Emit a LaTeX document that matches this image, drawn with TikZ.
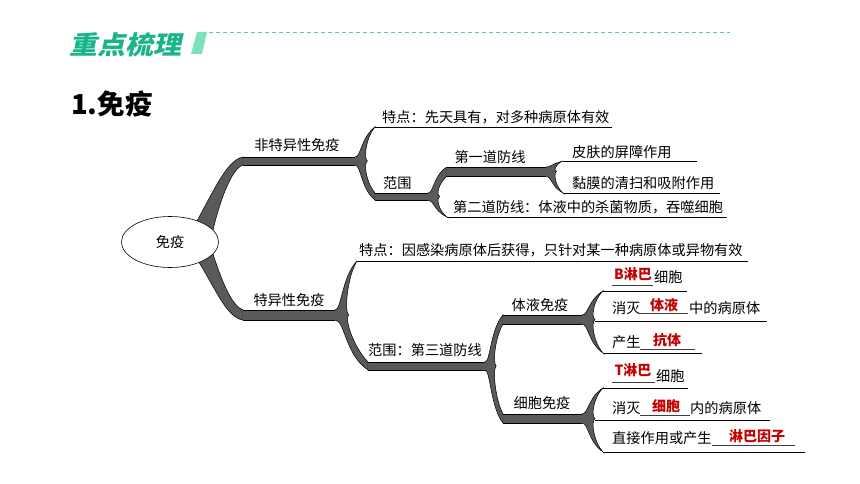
\documentclass[tikz,border=0pt]{standalone}
\usepackage{fontspec}
\usetikzlibrary{shapes.geometric}
\setmainfont{Noto Sans CJK SC}
\newfontfamily\hdrfont{Noto Sans CJK SC}[FakeSlant=0.22,FakeStretch=1.1,BoldFeatures={FakeSlant=0.22,FakeStretch=1.1}]
\definecolor{hdrgreen}{RGB}{26,180,137}
\definecolor{hdrlight}{RGB}{125,226,183}
\definecolor{dashgreen}{RGB}{90,200,170}
\definecolor{branchgray}{RGB}{90,90,90}
\definecolor{ansred}{RGB}{196,0,0}
\tikzset{
  txt/.style={inner sep=0pt, font=\fontsize{14.2}{16}\selectfont},
  ans/.style={inner sep=0pt, font=\fontsize{14}{16}\selectfont\bfseries, text=ansred},
  thinln/.style={line width=0.8pt, black},
  blankln/.style={line width=0.7pt, black!75},
  branch/.style={fill=branchgray, draw=black, line width=0.5pt},
}
% fork: xe yc h xtu yu hu xtl yl hl
\newcommand\forkY[9]{%
 \filldraw[branch] (#1,{#2-#3}) .. controls ({#1+0.3*(#4-#1)},{#2-#3}) and ({#1+0.3*(#4-#1)},{#5-#6+0.3*(#2-#5)}) .. (#4,{#5-#6}) -- (#4,{#5+#6})
 .. controls ({#1+0.55*(#4-#1)},{#5+#6+0.3*(#2-#5)}) and ({#1+0.42*(#4-#1)},{#2-0.06*(#2-#5)}) .. ({#1+0.62*(#4-#1)},#2)
 .. controls ({#1+0.42*(#4-#1)},{#2+0.06*(#8-#2)}) and ({#1+0.55*(#7-#1)},{#8-#9-0.3*(#8-#2)}) .. (#7,{#8-#9}) -- (#7,{#8+#9})
 .. controls ({#1+0.3*(#7-#1)},{#8+#9-0.3*(#8-#2)}) and ({#1+0.3*(#7-#1)},{#2+#3}) .. (#1,{#2+#3});}
% bar: x1 x2 yc h
\newcommand\barH[4]{%
 \fill[branchgray] ({#1-0.5},{#3-#4}) rectangle (#2,{#3+#4});
 \draw[line width=0.5pt] ({#1-0.5},{#3-#4}) -- (#2,{#3-#4}) ({#1-0.5},{#3+#4}) -- (#2,{#3+#4});}
\begin{document}
\begin{tikzpicture}[x=1pt,y=-1pt]
\useasboundingbox (0,0) rectangle (860,484);
% header
\node[inner sep=0pt, anchor=west, text=hdrgreen, font=\hdrfont\fontsize{25.5}{28}\selectfont\bfseries] (hdr) at (69,45) {重点梳理};
\fill[hdrlight] (197,32) -- (207,32) -- (202,54) -- (191,54) -- cycle;
\coordinate (dstart) at (209,32);
\coordinate (dend) at (730,32);
\draw[dashgreen, line width=0.8pt, dash pattern=on 4pt off 3pt] (dstart) -- (dend);
\node[inner sep=0pt, anchor=west, font=\fontsize{27.5}{30}\selectfont\bfseries] (title) at (71,104) {1.免疫};

% horns from root
\filldraw[branch] (193,228) .. controls (212,195) and (226,160) .. (243,157) -- (243,165) .. controls (232,168) and (220,200) .. (213,230);
\filldraw[branch] (195,256) .. controls (214,285) and (226,318) .. (243,320) -- (243,310) .. controls (232,306) and (222,282) .. (213,254);

% forks
\forkY{355}{161}{4}{375}{127}{0}{375}{196.5}{3.5}
\forkY{428}{196.5}{3.5}{447}{171.5}{4.5}{447}{217}{0}
\forkY{546}{171.5}{4.5}{563}{161}{0}{563}{193}{0}
\forkY{335}{315}{5}{357}{261}{0}{368}{366}{4}
\forkY{485}{366}{4}{503}{319.5}{4.5}{503}{418.5}{4.5}
\forkY{582}{319.5}{4.5}{603}{291}{0}{603}{353}{0}
\forkY{582}{418.5}{4.5}{603}{388}{0}{603}{452}{0}

% bars
\barH{243}{355}{161}{4}
\barH{375}{428}{196.5}{3.5}
\barH{447}{546}{171.5}{4.5}
\barH{243}{335}{315}{5}
\barH{368}{485}{366}{4}
\barH{503}{582}{319.5}{4.5}
\barH{503}{582}{418.5}{4.5}

% thin branch lines
\draw[thinln] (375,127) -- (612,127);
\draw[thinln] (447,217) -- (727,217);
\draw[thinln] (563,161) -- (697,161);
\draw[thinln] (563,193) -- (720,193);
\draw[thinln] (357,261) -- (748,261);
\draw[thinln] (603,291) -- (687,291);
\draw[thinln] (595,321) -- (767,321);
\draw[thinln] (603,353) -- (702,353);
\draw[thinln] (603,388) -- (688,388);
\draw[thinln] (595,420) -- (770,420);
\draw[thinln] (603,452) -- (805,452);

% root
\node[draw, line width=0.6pt, fill=white, ellipse, minimum width=97pt, minimum height=51pt, inner sep=0pt, font=\fontsize{14.2}{16}\selectfont] (root) at (170,242) {免疫};

% labels
\node[txt] (n1) at (297,145) {非特异性免疫};
\node[txt, anchor=west] (t1) at (382,117) {特点：先天具有，对多种病原体有效};
\node[txt, anchor=west] (f1) at (383,183) {范围};
\node[txt] (d1) at (490,157) {第一道防线};
\node[txt, anchor=west] (d2) at (453,207) {第二道防线：体液中的杀菌物质，吞噬细胞};
\node[txt, anchor=west] (p1) at (572,152) {皮肤的屏障作用};
\node[txt, anchor=west] (p2) at (572,183) {黏膜的清扫和吸附作用};
\node[txt] (n2) at (289,300) {特异性免疫};
\node[txt, anchor=west] (t2) at (359,250) {特点：因感染病原体后获得，只针对某一种病原体或异物有效};
\node[txt, anchor=west] (f2) at (368,350) {范围：第三道防线};
\node[txt] (h1) at (540,305) {体液免疫};
\node[txt] (c1) at (542,403) {细胞免疫};

% humoral details
\draw[blankln] (612,285) -- (653,285);
\node[ans] (a1) at (633,274) {B淋巴};
\node[txt, anchor=west] (b1) at (654,277) {细胞};
\node[txt, anchor=west] (b2) at (612,308) {消灭};
\draw[blankln] (640,313) -- (688,313);
\node[ans] (a2) at (664,305) {体液};
\node[txt, anchor=west] (b3) at (689,308) {中的病原体};
\node[txt, anchor=west] (b4) at (612,342) {产生};
\draw[blankln] (640,349) -- (695,349);
\node[ans] (a3) at (667,340) {抗体};

% cellular details
\draw[blankln] (612,382) -- (655,382);
\node[ans] (a4) at (633,370) {T淋巴};
\node[txt, anchor=west] (e1) at (656,376) {细胞};
\node[txt, anchor=west] (e2) at (612,408) {消灭};
\draw[blankln] (640,415) -- (690,415);
\node[ans] (a5) at (666,406) {细胞};
\node[txt, anchor=west] (e3) at (690,408) {内的病原体};
\node[txt, anchor=west] (e4) at (612,438) {直接作用或产生};
\draw[blankln] (712,445) -- (795,445);
\node[ans] (a6) at (757,436) {淋巴因子};
\end{tikzpicture}
\end{document}
